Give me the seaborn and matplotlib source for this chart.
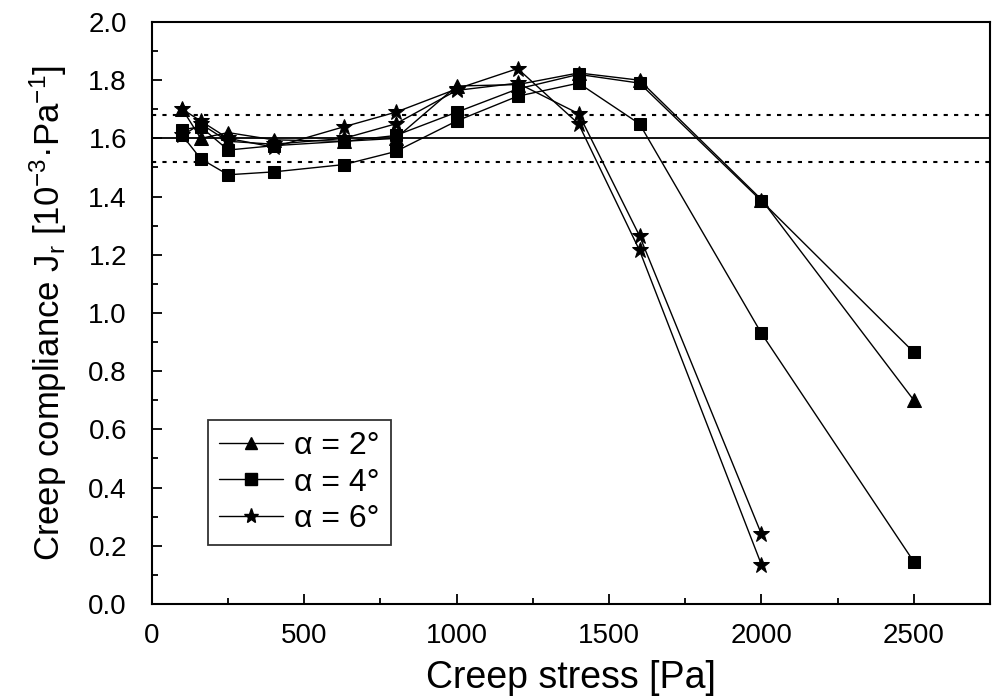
import matplotlib
matplotlib.use("Agg")
import matplotlib.pyplot as plt
import seaborn as sns
import pandas as pd
from matplotlib.lines import Line2D
from matplotlib.ticker import MultipleLocator, FormatStrFormatter

sns.set_theme(style="ticks")
plt.rcParams["font.family"] = ["Liberation Sans", "DejaVu Sans"]
plt.rcParams["mathtext.fontset"] = "custom"
plt.rcParams["mathtext.rm"] = "Liberation Sans"
plt.rcParams["mathtext.it"] = "Liberation Sans"
plt.rcParams["text.color"] = "black"
plt.rcParams["axes.labelcolor"] = "black"
plt.rcParams["xtick.color"] = "black"
plt.rcParams["ytick.color"] = "black"

# Creep stress levels [Pa]
stress = [100, 160, 250, 400, 630, 800, 1000, 1200, 1400, 1600, 2000, 2500]
stress_6 = stress[:11]

# Creep compliance J_r [10^-3 Pa^-1]
alpha2_run1 = [1.70, 1.60, 1.62, 1.595, 1.59, 1.60, 1.78, 1.785, 1.825, 1.80, 1.39, 0.70]
alpha4_run1 = [1.61, 1.53, 1.475, 1.485, 1.51, 1.555, 1.66, 1.745, 1.79, 1.65, 0.93, 0.145]
alpha4_run2 = [1.63, 1.64, 1.56, 1.575, 1.59, 1.61, 1.69, 1.77, 1.82, 1.79, 1.385, 0.865]
alpha6_run1 = [1.70, 1.66, 1.60, 1.57, 1.64, 1.69, 1.77, 1.84, 1.65, 1.215, 0.135]
alpha6_run2 = [1.61, 1.65, 1.59, 1.58, 1.60, 1.65, 1.765, 1.79, 1.685, 1.265, 0.24]

angles = ["α = 2°", "α = 4°", "α = 6°"]
mean_level = 1.60
band = [1.52, 1.68]

runs = [
    (angles[0], "2-1", stress, alpha2_run1),
    (angles[1], "4-1", stress, alpha4_run1),
    (angles[1], "4-2", stress, alpha4_run2),
    (angles[2], "6-1", stress_6, alpha6_run1),
    (angles[2], "6-2", stress_6, alpha6_run2),
]
rows = []
for ang, run, xs, ys in runs:
    for xv, yv in zip(xs, ys):
        rows.append({"stress": xv, "J": yv, "angle": ang, "run": run})
df = pd.DataFrame(rows)

marker_map = {angles[0]: "^", angles[1]: "s", angles[2]: "*"}
size_map = {angles[0]: 10, angles[1]: 9, angles[2]: 12}

fig = plt.figure(figsize=(9.93, 6.99), dpi=100)
ax = fig.add_axes([0.153, 0.136, 0.844, 0.8325])

ax.axhline(mean_level, color="black", lw=1.3, zorder=1)
for b in band:
    ax.axhline(b, color="black", lw=1.5, ls=(0, (2, 3)), zorder=1)

for ang in angles:
    sub = df[df["angle"] == ang]
    sns.lineplot(data=sub, x="stress", y="J", units="run", estimator=None,
                 color="black", lw=1.0, marker=marker_map[ang],
                 markersize=size_map[ang], markeredgecolor="black",
                 markerfacecolor="black", ax=ax, legend=False, zorder=3,
                 sort=False)

ax.set_xlim(0, 2750)
ax.set_ylim(0, 2.0)
ax.xaxis.set_major_locator(MultipleLocator(500))
ax.xaxis.set_minor_locator(MultipleLocator(250))
ax.yaxis.set_major_locator(MultipleLocator(0.2))
ax.yaxis.set_minor_locator(MultipleLocator(0.1))
ax.yaxis.set_major_formatter(FormatStrFormatter("%.1f"))
ax.tick_params(which="major", direction="in", length=7, width=1.3,
               labelsize=20, pad=18)
ax.tick_params(which="minor", direction="in", length=4, width=1.3)
ax.tick_params(axis="x", which="major", labelsize=20, pad=14)
for sp in ax.spines.values():
    sp.set_linewidth(1.5)
    sp.set_color("black")

ax.set_xlabel("Creep stress [Pa]", fontsize=27, labelpad=8)
ax.set_ylabel(r"Creep compliance J$_\mathregular{r}$ [10$^\mathregular{-3}$·Pa$^\mathregular{-1}$]",
              fontsize=25, labelpad=14)

handles = [Line2D([], [], color="black", lw=1.0, marker=marker_map[a],
                  markersize=size_map[a] - 1, markerfacecolor="black")
           for a in angles]
leg = ax.legend(handles, angles, loc="lower left", bbox_to_anchor=(0.067, 0.101),
                borderaxespad=0, fontsize=23, frameon=True, fancybox=False,
                edgecolor="black", handlelength=2.0, handletextpad=0.35,
                borderpad=0.35, labelspacing=0.2)
leg.get_frame().set_linewidth(1.3)

fig.savefig("out.png", dpi=100, facecolor="white")
